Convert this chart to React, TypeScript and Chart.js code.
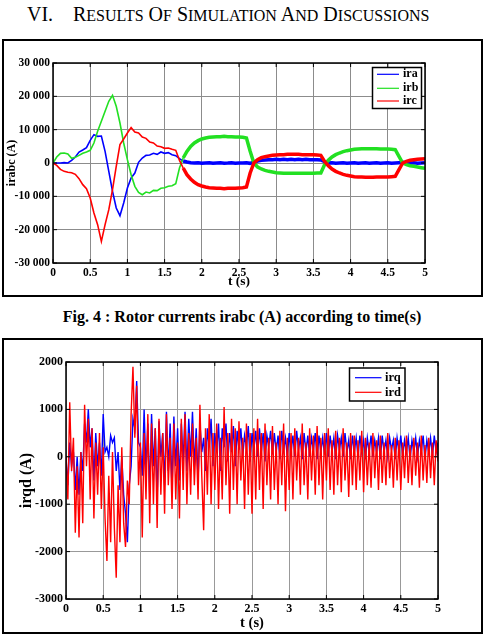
import React, { useEffect, useRef } from 'react';
import { Chart, registerables } from 'chart.js';

Chart.register(...registerables);

const FONT = '"Liberation Serif", "Times New Roman", Times, serif';

// ---------- Data ----------
const STEP_ABC = 0.05; // seconds between samples (Fig. 4)
const STEP_QD = 0.025; // seconds between samples (second figure)

const X_TICKS = [0, 0.5, 1, 1.5, 2, 2.5, 3, 3.5, 4, 4.5, 5];
const Y_TICKS_ABC = [-30000, -20000, -10000, 0, 10000, 20000, 30000];
const Y_TICKS_QD = [-3000, -2000, -1000, 0, 1000, 2000];

const ira = [
  0, 0, 0, 100, 0, 800, 1800, 3300, 3900, 4600,
  6800, 8500, 8000, 8100, 3500, -2500, -8500, -13500, -15800, -12000,
  -7500, -4500, -3000, 200, 1500, 2300, 2400, 2900, 2600, 3300,
  2900, 3100, 2500, 2200, 1300, 600, 300, 100, 0, 100,
  -100, 0, 100, -100, 0, 100, -50, 0, 100, -100,
  0, 0, 100, -100, 300, 600, 800, 900, 1000, 1000,
  1100, 1000, 1100, 1000, 1100, 1000, 1100, 1000, 1100, 1000,
  1000, 1000, 900, 400, 0, 100, -100, 0, 100, -100,
  0, 100, -100, 0, 100, -100, 0, 100, -100, 0,
  100, -100, 0, 100, 200, 100, 0, 100, -100, 0,
  100,
];

const irb = [
  0, 1800, 2900, 3000, 2700, 1400, 1700, 2300, 2900, 3300,
  3800, 6000, 9500, 12500, 15500, 18500, 20300, 17000, 12000, 6000,
  1000, -3500, -7000, -8800, -9500, -8700, -9000, -8200, -8300, -7600,
  -7400, -7000, -6800, -6200, -1500, 1500, 3500, 5000, 6000, 6700,
  7200, 7500, 7700, 7800, 7900, 7900, 8000, 7900, 7900, 7800,
  7800, 7700, 7500, 3500, 0, -1200, -1800, -2200, -2500, -2700,
  -2900, -3000, -3100, -3100, -3100, -3100, -3100, -3100, -3100, -3100,
  -3100, -3000, -3000, -500, 800, 1800, 2500, 3000, 3400, 3700,
  3900, 4100, 4200, 4300, 4300, 4300, 4300, 4300, 4200, 4200,
  4200, 4100, 4000, 2000, 0, -500, -800, -1000, -1200, -1400,
  -1600,
];

const irc = [
  0, -700, -1900, -2500, -2800, -2900, -3400, -4700, -6500, -7700,
  -10500, -15000, -18500, -23500, -18500, -14000, -8000, -1000, 5500, 7200,
  9000, 10600, 9300, 9000, 7800, 7400, 6300, 6000, 5100, 4900,
  4400, 4500, 4100, 3800, 800, -1500, -3500, -4800, -5800, -6500,
  -6900, -7200, -7400, -7500, -7600, -7600, -7700, -7600, -7600, -7600,
  -7500, -7400, -7200, -3000, 0, 1000, 1600, 1900, 2100, 2300,
  2400, 2500, 2500, 2600, 2600, 2600, 2600, 2500, 2500, 2500,
  2500, 2400, 2300, 500, -800, -1800, -2500, -3000, -3400, -3700,
  -3900, -4100, -4200, -4200, -4300, -4300, -4300, -4200, -4200, -4200,
  -4200, -4100, -4000, -2000, 0, 500, 800, 1000, 1100, 1200,
  1300,
];

const irq = [
  0, -600, 300, -200, 100, -700, 0, -800, 100, -300,
  700, 300, 1000, 200, 600, -500, 500, -200, 300, -400,
  900, 100, 200, 0, 450, 300, 400, -300, 100, -700,
  0, -800, -1200, -1800, -600, -200, 800, 600, 1600, 300,
  200, -400, 1000, -300, 700, -800, 900, -200, 600, -900,
  750, 0, 500, -600, 950, -300, 700, -700, 850, -200,
  600, -500, 700, -100, 950, -300, 800, 0, 950, -200,
  600, -500, 700, 100, 400, -300, 600, 200, 800, -200,
  500, 100, 700, -300, 600, 200, 700, -100, 500, 100,
  650, -200, 550, 150, 600, 0, 450, 200, 650, -100,
  500, 150, 550, 0, 600, 100, 500, -100, 450, 200,
  550, 50, 500, 100, 450, -50, 550, 150, 400, 0,
  500, 100, 450, 0, 550, 150, 400, -50, 500, 100,
  450, 0, 400, 150, 500, -50, 450, 100, 400, 50,
  500, 0, 450, 100, 400, -50, 450, 150, 400, 0,
  500, 100, 350, -50, 450, 100, 400, 0, 450, 100,
  350, -50, 400, 100, 450, 0, 350, 100, 400, -50,
  450, 100, 350, 0, 400, 150, 350, -50, 400, 100,
  450, 0, 350, 100, 400, -50, 350, 100, 400, 0,
  350, 100, 450, -50, 350, 100, 400, 0, 450, 100,
  300,
];

const ird = [
  0, -900, 1150, -300, 400, -1600, -200, -1700, 100, -1400,
  1100, -200, 800, -900, 600, -1300, 300, -800, 500, -1100,
  200, -1300, -2200, -400, -1800, 100, -1500, -2550, -600, -1800,
  200, -1400, -1900, -500, -1000, 900, 1900, 400, 1500, -600,
  300, -1700, 500, -900, 900, -1400, 700, -1000, 600, -1500,
  800, -800, 500, -1200, 900, -600, 400, -1100, 700, -900,
  300, -1300, 800, -700, 900, -1000, 500, -800, 700, -600,
  400, -900, 1100, -400, -1550, 600, -800, 900, -1000, 500,
  -700, 700, -1100, 400, -900, 1050, -600, 500, -1200, 800,
  -700, 600, -1000, 750, -500, 400, -1100, 700, -800, 500,
  -1200, 600, -900, 800, -700, 500, -1100, 700, -600, 400,
  -900, 650, -700, 300, -1000, 550, -600, 700, -1150, 400,
  -700, 500, -900, 600, -500, 400, -800, 700, -600, 300,
  -900, 600, -500, 450, -800, 650, -600, 400, -900, 500,
  -500, 600, -700, 350, -800, 550, -600, 400, -750, 600,
  -500, 300, -850, 500, -600, 450, -700, 350, -500, 550,
  -750, 400, -600, 300, -650, 500, -450, 350, -700, 450,
  -550, 300, -600, 500, -450, 250, -650, 400, -500, 350,
  -700, 300, -450, 450, -550, 250, -600, 400, -400, 300,
  -650, 450, -500, 250, -550, 400, -450, 300, -600, 350,
  -100,
];

// ---------- helpers ----------
function toPoints(values: number[], step: number) {
  return values.map((y, i) => ({ x: Math.round(i * step * 1000) / 1000, y }));
}

function fmtSpaced(v: number) {
  if (v === 0) return '0';
  const s = v < 0 ? '-' : '';
  const a = Math.abs(v);
  return s + Math.floor(a / 1000) + ' ' + String(a % 1000).padStart(3, '0');
}

function makeOverlay(legend: any) {
  return {
    id: 'matlabFrame',
    afterDraw(chart: any) {
      const { ctx, chartArea: a, scales } = chart;
      ctx.save();
      ctx.strokeStyle = '#000';
      ctx.lineWidth = 1.5;
      ctx.strokeRect(a.left, a.top, a.right - a.left, a.bottom - a.top);
      ctx.lineWidth = 1;
      const L = 4;
      ctx.beginPath();
      scales.x.ticks.forEach((t: any) => {
        const px = scales.x.getPixelForValue(t.value);
        ctx.moveTo(px, a.top);
        ctx.lineTo(px, a.top + L);
        ctx.moveTo(px, a.bottom);
        ctx.lineTo(px, a.bottom - L);
      });
      scales.y.ticks.forEach((t: any) => {
        const py = scales.y.getPixelForValue(t.value);
        ctx.moveTo(a.left, py);
        ctx.lineTo(a.left + L, py);
        ctx.moveTo(a.right, py);
        ctx.lineTo(a.right - L, py);
      });
      ctx.stroke();
      ctx.fillStyle = '#fff';
      ctx.fillRect(legend.x, legend.y, legend.w, legend.h);
      ctx.strokeStyle = '#000';
      ctx.lineWidth = 1.5;
      ctx.strokeRect(legend.x, legend.y, legend.w, legend.h);
      ctx.font = `bold ${legend.fontSize}px ${FONT}`;
      ctx.textBaseline = 'middle';
      ctx.textAlign = 'left';
      chart.data.datasets.forEach((ds: any, i: number) => {
        const yy = legend.rows[i];
        ctx.strokeStyle = ds.borderColor;
        ctx.lineWidth = 1.2;
        ctx.beginPath();
        ctx.moveTo(legend.lineX0, yy);
        ctx.lineTo(legend.lineX1, yy);
        ctx.stroke();
        ctx.fillStyle = '#000';
        ctx.fillText(ds.label, legend.textX, yy);
      });
      ctx.restore();
    },
  };
}

function MatlabChart(p: any) {
  const ref = useRef<HTMLCanvasElement>(null);
  useEffect(() => {
    const tickFont = { family: FONT, weight: 'bold' as const, size: p.tickSize };
    const chart = new Chart(ref.current as HTMLCanvasElement, {
      type: 'line',
      data: { datasets: p.datasets },
      options: {
        animation: false,
        responsive: false,
        devicePixelRatio: 1,
        layout: { padding: { top: p.area.top, right: p.width - p.area.right, left: 0, bottom: 0 } },
        plugins: { legend: { display: false }, tooltip: { enabled: false } },
        elements: { point: { radius: 0 }, line: { tension: 0 } },
        scales: {
          x: {
            type: 'linear',
            min: 0,
            max: 5,
            afterBuildTicks: (s: any) => {
              s.ticks = X_TICKS.map((v) => ({ value: v }));
            },
            afterFit: (s: any) => {
              s.height = p.height - p.area.bottom;
            },
            ticks: {
              font: tickFont,
              color: '#000',
              padding: p.xTickPad,
              maxRotation: 0,
              autoSkip: false,
              callback: (v: any) => String(v),
            },
            grid: { color: p.gridColor, lineWidth: 1, drawTicks: false },
            border: { display: false },
            title: {
              display: true,
              text: 't (s)',
              color: '#000',
              font: { family: FONT, weight: 'bold', size: p.xTitleSize, lineHeight: 1 },
              padding: { top: 0, bottom: p.xTitlePad },
            },
          },
          y: {
            type: 'linear',
            min: p.yTicks[0],
            max: p.yTicks[p.yTicks.length - 1],
            afterBuildTicks: (s: any) => {
              s.ticks = p.yTicks.map((v: number) => ({ value: v }));
            },
            afterFit: (s: any) => {
              s.width = p.area.left;
            },
            ticks: {
              font: tickFont,
              color: '#000',
              padding: p.yTickPad,
              autoSkip: false,
              callback: (v: any) => p.yFmt(Number(v)),
            },
            grid: { color: p.gridColor, lineWidth: 1, drawTicks: false },
            border: { display: false },
            title: {
              display: true,
              text: p.yTitle,
              color: '#000',
              font: { family: FONT, weight: 'bold', size: p.yTitleSize, lineHeight: 1 },
              padding: { top: p.yTitlePad, bottom: 0 },
            },
          },
        },
      },
      plugins: [makeOverlay(p.legend)],
    } as any);
    return () => chart.destroy();
  }, []);
  return <canvas ref={ref} width={p.width} height={p.height} style={{ display: 'block' }} />;
}

const thick = (from: number, w1: number, w2: number) => (ctx: any) =>
  ctx.p0.parsed.x >= from ? w2 : w1;

const SC = { fontSize: 16 };

export default function App() {
  const dsABC = [
    { label: 'ira', data: toPoints(ira, STEP_ABC), borderColor: '#0000ff', borderWidth: 1.6, order: 2, segment: { borderWidth: thick(1.75, 1.6, 3.5) } },
    { label: 'irb', data: toPoints(irb, STEP_ABC), borderColor: '#22e022', borderWidth: 1.6, order: 1, segment: { borderWidth: thick(1.75, 1.6, 3.5) } },
    { label: 'irc', data: toPoints(irc, STEP_ABC), borderColor: '#ff0000', borderWidth: 1.6, order: 0, segment: { borderWidth: thick(1.75, 1.6, 3.5) } },
  ];
  const dsQD = [
    { label: 'irq', data: toPoints(irq, STEP_QD), borderColor: '#0000ff', borderWidth: 1.4, order: 1 },
    { label: 'ird', data: toPoints(ird, STEP_QD), borderColor: '#ff0000', borderWidth: 1.4, order: 0 },
  ];

  return (
    <div style={{ position: 'fixed', left: 0, top: 0, width: 484, height: 640, background: '#fff', fontFamily: FONT, color: '#000', overflow: 'hidden' }}>
      <div style={{ position: 'absolute', left: 27, top: 4, fontSize: 20, lineHeight: '20px', whiteSpace: 'nowrap' }}>VI.</div>
      <div style={{ position: 'absolute', left: 73, top: 4, fontSize: 20, lineHeight: '20px', whiteSpace: 'nowrap' }}>
        R<span style={SC}>ESULTS</span> O<span style={SC}>F</span> S<span style={SC}>IMULATION</span> A<span style={SC}>ND</span> D<span style={SC}>ISCUSSIONS</span>
      </div>

      <div style={{ position: 'absolute', left: 2, top: 39, width: 481, height: 258, border: '2px solid #000', boxSizing: 'border-box' }}>
        <MatlabChart
          width={477}
          height={254}
          area={{ left: 49, top: 22, right: 421, bottom: 222 }}
          datasets={dsABC}
          yTicks={Y_TICKS_ABC}
          yFmt={fmtSpaced}
          yTitle="irabc (A)"
          yTitleSize={12}
          yTitlePad={2}
          xTitleSize={13.5}
          xTitlePad={6.5}
          tickSize={11.5}
          xTickPad={3}
          yTickPad={3}
          gridColor="#8c8c8c"
          legend={{ x: 368.5, y: 26.5, w: 49, h: 41, rows: [33.3, 47.3, 60], lineX0: 373, lineX1: 395, textX: 399, fontSize: 12 }}
        />
      </div>

      <div style={{ position: 'absolute', left: 0, top: 309, width: 484, textAlign: 'center', fontSize: 16, lineHeight: '16px', fontWeight: 'bold', whiteSpace: 'nowrap' }}>
        Fig. 4 : Rotor currents irabc (A) according to time(s)
      </div>

      <div style={{ position: 'absolute', left: 2, top: 338, width: 481, height: 296, border: '2px solid #000', boxSizing: 'border-box' }}>
        <MatlabChart
          width={477}
          height={292}
          area={{ left: 62, top: 22, right: 434, bottom: 259 }}
          datasets={dsQD}
          yTicks={Y_TICKS_QD}
          yFmt={(v: number) => String(v)}
          yTitle="irqd (A)"
          yTitleSize={16}
          yTitlePad={14.5}
          xTitleSize={14.5}
          xTitlePad={1.5}
          tickSize={12}
          xTickPad={3}
          yTickPad={3}
          gridColor="#999999"
          legend={{ x: 345.5, y: 28, w: 55.5, h: 33, rows: [37.7, 52.3], lineX0: 351, lineX1: 377.5, textX: 381, fontSize: 12.5 }}
        />
      </div>
    </div>
  );
}
